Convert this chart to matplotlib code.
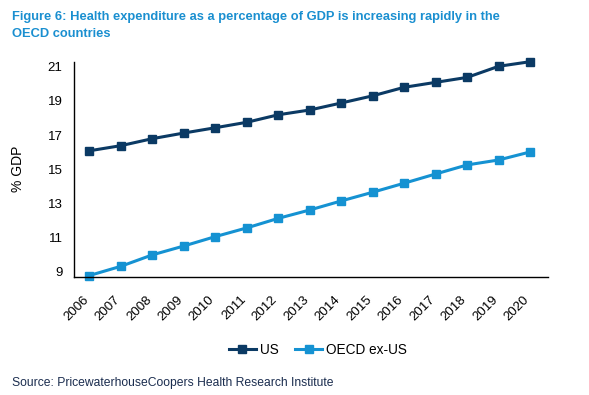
import matplotlib
matplotlib.use("Agg")
import matplotlib.pyplot as plt
from matplotlib.transforms import ScaledTranslation

plt.rcParams['font.family'] = ['Liberation Sans', 'DejaVu Sans']

years = [str(y) for y in range(2006, 2021)]
us = [16.08, 16.38, 16.79, 17.12, 17.43, 17.75, 18.19, 18.47, 18.88, 19.30,
      19.80, 20.09, 20.38, 21.03, 21.30]
oecd = [8.77, 9.31, 9.98, 10.50, 11.05, 11.56, 12.12, 12.61, 13.14, 13.65,
        14.18, 14.72, 15.25, 15.54, 16.01]
yticks = [9, 11, 13, 15, 17, 19, 21]

c_us = '#0b3a64'
c_oecd = '#1592d2'

fig = plt.figure(figsize=(5.89, 3.95), dpi=100)
ax = fig.add_axes([73.7/589, 1-276.7/395, (547.7-73.7)/589, (276.7-61.7)/395])

x = list(range(len(years)))
ax.plot(x, us, color=c_us, lw=2.2, marker='s', ms=6.2, label='US', clip_on=False)
ax.plot(x, oecd, color=c_oecd, lw=2.2, marker='s', ms=6.2, label='OECD ex-US', clip_on=False)

ax.set_xlim(-0.5, len(years) - 1 + 0.56)
ax.set_ylim(8.7, 21.3)
ax.set_yticks(yticks)
ax.set_yticklabels([str(t) for t in yticks], fontsize=9.5)
ax.set_xticks(x)
ax.set_xticklabels(years, rotation=45, ha='right', rotation_mode='anchor', fontsize=9.5)
ax.tick_params(axis='y', length=0, pad=8)
ax.tick_params(axis='x', length=0, pad=12)
offset = ScaledTranslation(-7/100, 0, fig.dpi_scale_trans)
for lab in ax.get_xticklabels():
    lab.set_transform(lab.get_transform() + offset)
for s in ['top', 'right']:
    ax.spines[s].set_visible(False)
for s in ['left', 'bottom']:
    ax.spines[s].set_linewidth(1.0)
    ax.spines[s].set_color('black')
ax.set_ylabel('% GDP', fontsize=10)
ax.yaxis.set_label_coords(-0.103, 0.5)

fig.legend(loc='center', bbox_to_anchor=(318/589, 1-350/395), ncol=2, frameon=False,
           fontsize=9.8, handlelength=2.0, handletextpad=0.3, columnspacing=1.2,
           markerscale=0.95)

fig.text(12/589, 1-11/395, 'Figure 6: Health expenditure as a percentage of GDP is increasing rapidly in the\nOECD countries',
         color='#1a8fd0', fontsize=9.3, fontweight='bold', va='top', ha='left', linespacing=1.55)
fig.text(12/589, 1-386/395, 'Source: PricewaterhouseCoopers Health Research Institute',
         color='#1b2d4f', fontsize=8.7, va='baseline', ha='left')

fig.savefig('out.png', dpi=100)
